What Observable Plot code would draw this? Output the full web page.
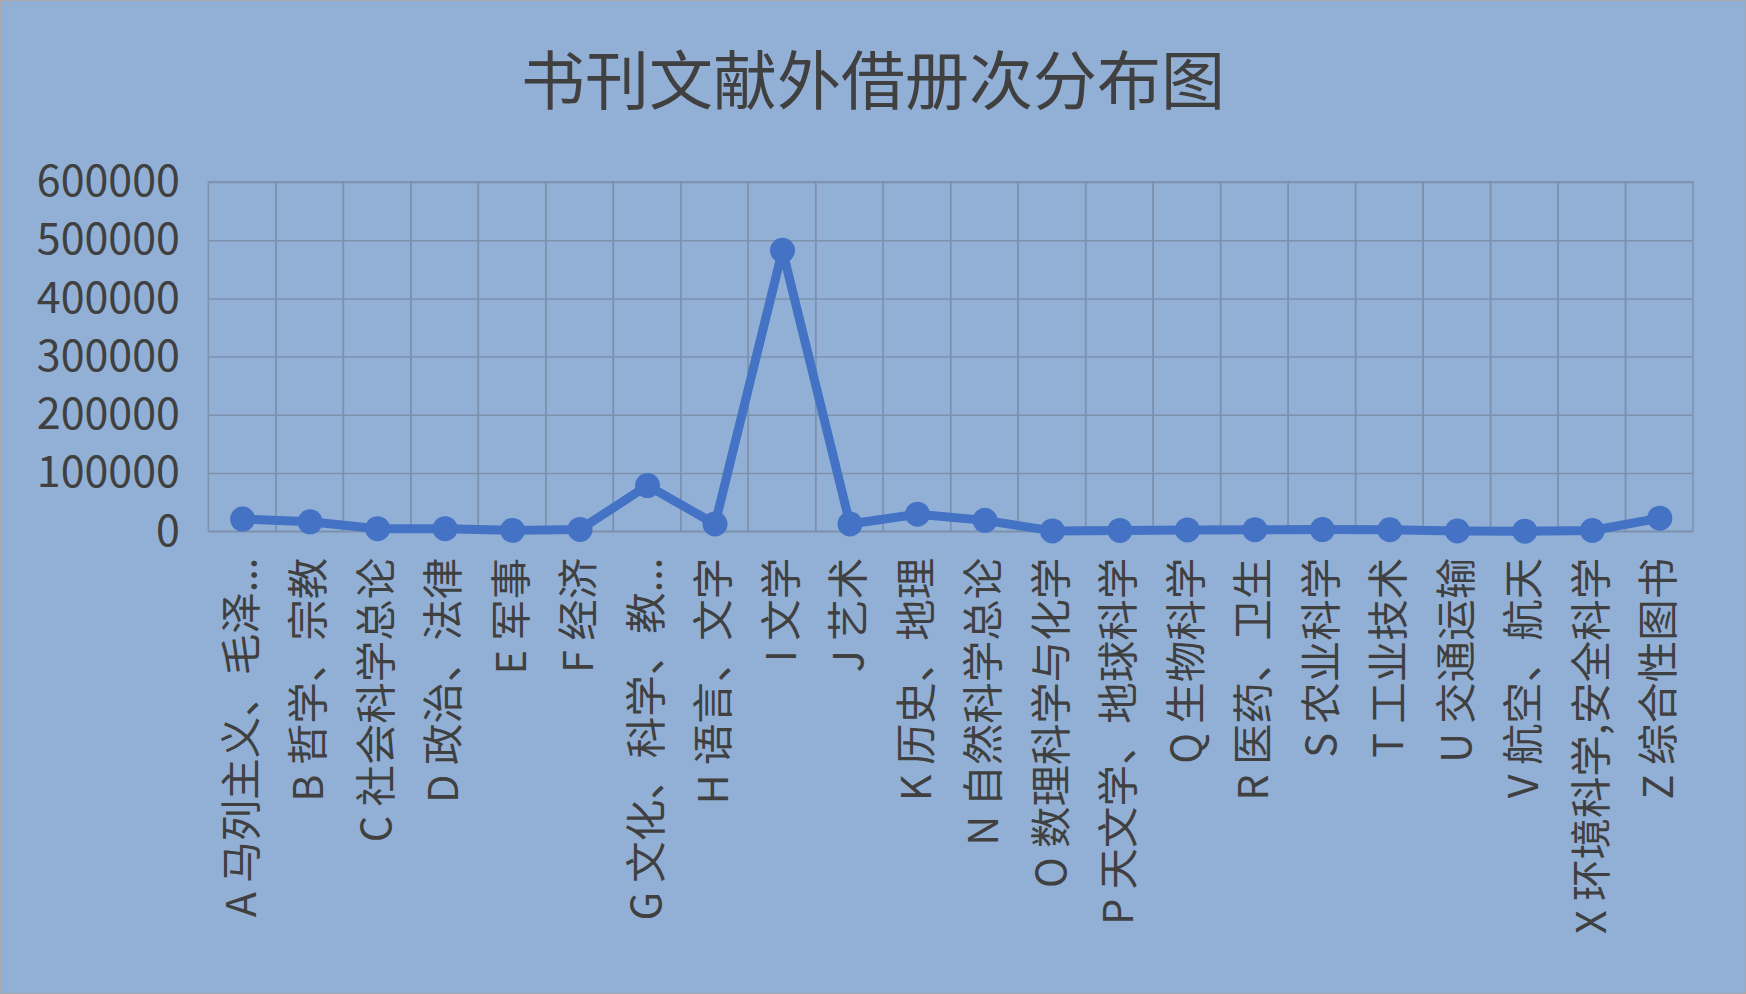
<!DOCTYPE html>
<html>
<head>
<meta charset="utf-8">
<script src="https://cdn.jsdelivr.net/npm/d3@7"></script>
<script src="https://cdn.jsdelivr.net/npm/@observablehq/plot@0.6"></script>
<style>
  html, body { margin: 0; padding: 0; }
  #wrap {
    width: 1746px; height: 994px; box-sizing: border-box;
    background: #92B0D6; border: 1px solid #a9a9a9; position: relative; overflow: hidden;
    font-family: "Noto Sans CJK SC", "Noto Sans", sans-serif; color: #404040;
  }
  #title {
    height: 135px; box-sizing: border-box; padding-top: 15px;
    line-height: 120px; text-align: center; font-size: 64px; color: #404040;
  }
  #chart { margin-left: -1px; }
  svg { display: block; }
</style>
</head>
<body>
<div id="wrap">
  <div id="title">书刊文献外借册次分布图</div>
  <div id="chart"></div>
</div>
<script>
const categories = [
  "A 马列主义、毛泽...", "B 哲学、宗教", "C 社会科学总论", "D 政治、法律", "E 军事", "F 经济",
  "G 文化、科学、教...", "H 语言、文字", "I 文学", "J 艺术", "K 历史、地理", "N 自然科学总论",
  "O 数理科学与化学", "P 天文学、地球科学", "Q 生物科学", "R 医药、卫生", "S 农业科学",
  "T 工业技术", "U 交通运输", "V 航空、航天", "X 环境科学,安全科学", "Z 综合性图书"
];
const values = [
  21800, 17100, 5300, 5300, 2400, 4100,
  79400, 13300, 483500, 13300, 30200, 19600,
  1500, 2300, 3200, 3600, 3800,
  3500, 1300, 1000, 2200, 23400
];
const yTicks = [0, 100000, 200000, 300000, 400000, 500000, 600000];

const data = categories.map((c, i) => ({cat: c, value: values[i]}));

const gridColor = "#7d91ad";
const lineColor = "#4472C4";

const chart = Plot.plot({
  width: 1746,
  height: 859,
  marginTop: 46,
  marginBottom: 463.5,
  marginLeft: 208.5,
  marginRight: 52,
  style: {background: "transparent", fontFamily: "'Noto Sans CJK SC', 'Noto Sans', sans-serif", color: "#404040"},
  x: {type: "band", domain: categories, padding: 0, round: false, label: null},
  y: {domain: [0, 600000], label: null},
  marks: [
    Plot.gridY(yTicks, {stroke: gridColor, strokeOpacity: 1, strokeWidth: 1.5}),
    Plot.cell(categories, {x: d => d, fill: "none", stroke: gridColor, strokeWidth: 1.5}),
    Plot.axisY({ticks: yTicks, tickFormat: d3.format("d"), tickSize: 0, tickPadding: 29, fontSize: 43, fill: "#404040", label: null}),
    Plot.axisX({tickRotate: -90, tickSize: 0, tickPadding: 26, fontSize: 41.5, fill: "#404040", label: null}),
    Plot.line(data, {x: "cat", y: "value", stroke: lineColor, strokeWidth: 9, strokeLinejoin: "round", strokeLinecap: "round"}),
    Plot.dot(data, {x: "cat", y: "value", r: 12.5, fill: lineColor, stroke: "none"})
  ]
});
document.getElementById("chart").appendChild(chart);
</script>
</body>
</html>
